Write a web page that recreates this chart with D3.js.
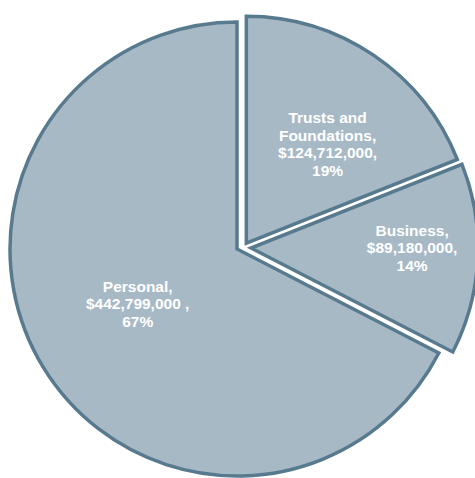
<!DOCTYPE html>
<html>
<head>
<meta charset="utf-8">
<script src="https://cdn.jsdelivr.net/npm/d3@7"></script>
<style>
  html, body { margin: 0; padding: 0; background: #fff; }
  svg { display: block; }
</style>
</head>
<body>
<svg id="chart" width="475" height="478"></svg>
<script>
// Giving by source (drawn clockwise from 12 o'clock)
const categories = ["Trusts and Foundations", "Business", "Personal"];
const amounts = [124712000, 89180000, 442799000];
const nameLines = [["Trusts and", "Foundations,"], ["Business,"], ["Personal,"]];
const amountSuffix = [",", ",", " ,"];

// Layout settings
const width = 475, height = 478;
const cx = 237, cy = 249, radius = 227;
// pulled-out slices: [distance, direction in degrees clockwise from 12 o'clock]
const explode = {
  "Trusts and Foundations": [11, 58],
  "Business": [14, 86],
  "Personal": [0, 0]
};
// label placement: [fraction along slice angle, fraction of radius]
const labelPlace = {
  "Trusts and Foundations": [0.575, 0.565],
  "Business": [0.44, 0.71],
  "Personal": [0.51, 0.50]
};
const fill = "#a8b9c6", edge = "#587a8f";

const data = categories.map((c, i) => ({ name: c, value: amounts[i], lines: nameLines[i], suffix: amountSuffix[i] }));
const total = d3.sum(amounts);
const fmt = d3.format("$,");

const svg = d3.select("#chart");
const g = svg.append("g").attr("transform", `translate(${cx},${cy})`);

const pie = d3.pie().sort(null).value(d => d.value);
const arc = d3.arc().innerRadius(0).outerRadius(radius);
const arcs = pie(data);

const slice = g.selectAll("g.slice").data(arcs).join("g")
  .attr("class", "slice")
  .attr("transform", d => {
    const [dist, deg] = explode[d.data.name];
    const a = deg * Math.PI / 180;
    return `translate(${Math.sin(a) * dist},${-Math.cos(a) * dist})`;
  });

slice.append("path")
  .attr("d", arc)
  .attr("fill", fill)
  .attr("stroke", edge)
  .attr("stroke-width", 3.5)
  .attr("stroke-linejoin", "miter");

const lineH = 17.5;
slice.each(function(d) {
  const [af, rf] = labelPlace[d.data.name];
  const a = d.startAngle + (d.endAngle - d.startAngle) * af;
  const x = Math.sin(a) * radius * rf;
  const y = -Math.cos(a) * radius * rf;
  const pct = Math.round(d.data.value / total * 100) + "%";
  const lines = [...d.data.lines, fmt(d.data.value) + d.data.suffix, pct];
  const t = d3.select(this).append("text")
    .attr("x", x).attr("y", y)
    .attr("text-anchor", "middle")
    .attr("fill", "#ffffff")
    .style("font-family", "'Liberation Sans', Arial, sans-serif")
    .style("font-weight", "bold")
    .style("font-size", "15.5px");
  lines.forEach((ln, i) => {
    t.append("tspan")
      .attr("x", x)
      .attr("y", y + (i - (lines.length - 1) / 2) * lineH)
      .attr("dominant-baseline", "central")
      .text(ln);
  });
});
</script>
</body>
</html>
